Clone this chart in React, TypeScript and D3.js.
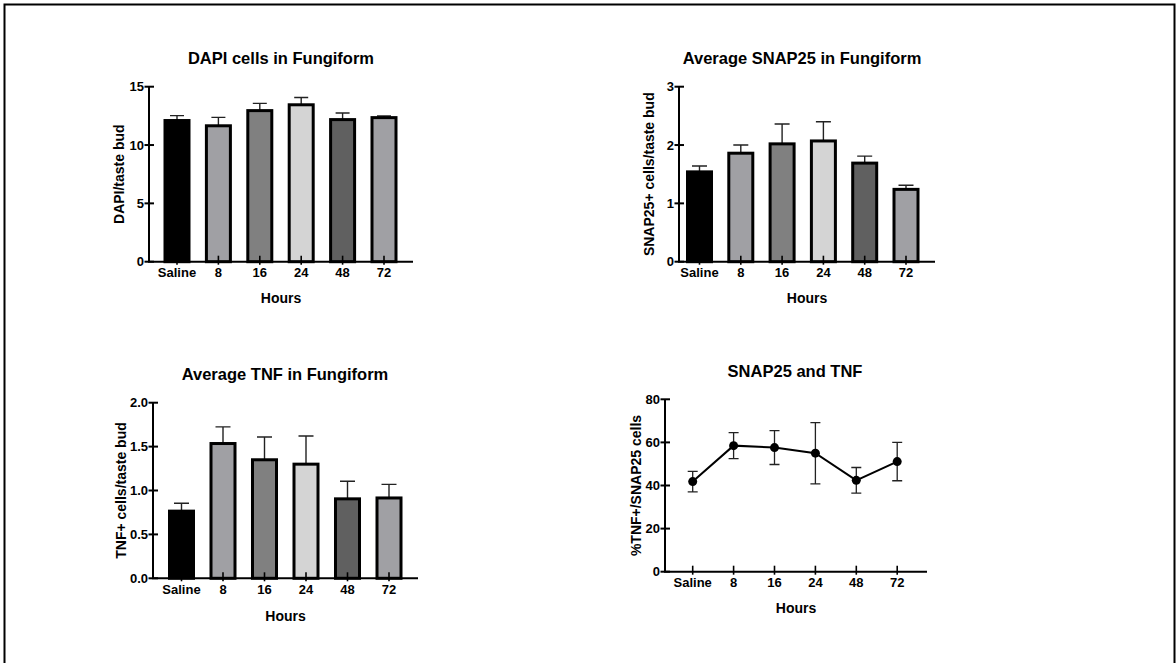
import React, { useEffect, useRef } from 'react';
import * as d3 from 'd3';

const categories = ['Saline', '8', '16', '24', '48', '72'];
const barFills = ['#000000', '#a0a0a4', '#808080', '#d4d4d4', '#606060', '#a0a0a4'];

const dapiMean = [12.1, 11.65, 12.95, 13.45, 12.18, 12.35];
const dapiErr = [0.42, 0.72, 0.62, 0.62, 0.57, 0.14];
const dapiTicks = [0, 5, 10, 15];

const snapMean = [1.54, 1.86, 2.02, 2.07, 1.69, 1.24];
const snapErr = [0.1, 0.14, 0.34, 0.33, 0.12, 0.07];
const snapTicks = [0, 1, 2, 3];

const tnfMean = [0.765, 1.535, 1.35, 1.3, 0.905, 0.915];
const tnfErr = [0.09, 0.19, 0.26, 0.32, 0.2, 0.155];
const tnfTicks = [0, 0.5, 1.0, 1.5, 2.0];

const ratioMean = [41.8, 58.5, 57.6, 55.0, 42.4, 51.1];
const ratioErr = [4.75, 6.05, 7.85, 14.2, 5.95, 8.9];
const ratioTicks = [0, 20, 40, 60, 80];

const FONT = '"Liberation Sans", Arial, sans-serif';

type Panel = {
  title: string;
  titleX: number;
  titleY: number;
  yLabel: string;
  yLabelX: number;
  axisX: number;
  axisEnd: number;
  yTop: number;
  yBottom: number;
  firstX: number;
  step: number;
  ticks: number[];
  fmt: (v: number) => string;
  hoursY: number;
  means: number[];
  errs: number[];
  kind: 'bar' | 'line';
  cap: number;
};

const panels: Panel[] = [
  {
    title: 'DAPI cells in Fungiform', titleX: 281, titleY: 58,
    yLabel: 'DAPI/taste bud', yLabelX: 119,
    axisX: 149, axisEnd: 413, yTop: 86.7, yBottom: 261.7,
    firstX: 177, step: 41.4, ticks: dapiTicks, fmt: d3.format('d'),
    hoursY: 298, means: dapiMean, errs: dapiErr, kind: 'bar', cap: 14,
  },
  {
    title: 'Average SNAP25 in Fungiform', titleX: 802, titleY: 58,
    yLabel: 'SNAP25+ cells/taste bud', yLabelX: 649,
    axisX: 679, axisEnd: 935, yTop: 86.7, yBottom: 261.7,
    firstX: 699.5, step: 41.3, ticks: snapTicks, fmt: d3.format('d'),
    hoursY: 298, means: snapMean, errs: snapErr, kind: 'bar', cap: 15,
  },
  {
    title: 'Average TNF in Fungiform', titleX: 285, titleY: 374,
    yLabel: 'TNF+ cells/taste bud', yLabelX: 121,
    axisX: 153, axisEnd: 418, yTop: 402.7, yBottom: 578.3,
    firstX: 181.5, step: 41.5, ticks: tnfTicks, fmt: d3.format('.1f'),
    hoursY: 616, means: tnfMean, errs: tnfErr, kind: 'bar', cap: 15,
  },
  {
    title: 'SNAP25 and TNF', titleX: 795, titleY: 371,
    yLabel: '%TNF+/SNAP25 cells', yLabelX: 636,
    axisX: 665, axisEnd: 927, yTop: 399.3, yBottom: 571.7,
    firstX: 692.7, step: 40.9, ticks: ratioTicks, fmt: d3.format('d'),
    hoursY: 608, means: ratioMean, errs: ratioErr, kind: 'line', cap: 10,
  },
];

const App = () => {
  const ref = useRef<SVGSVGElement>(null);

  useEffect(() => {
    const svg = d3.select(ref.current);
    svg.selectAll('*').remove();

    // outer frame (bottom edge runs off the page)
    svg.append('rect')
      .attr('x', 4.5).attr('y', 4.5)
      .attr('width', 1170).attr('height', 700)
      .attr('fill', 'none').attr('stroke', '#000').attr('stroke-width', 2);

    panels.forEach((p) => {
      const g = svg.append('g')
        .attr('font-family', FONT)
        .attr('font-weight', 'bold');

      const x = d3.scalePoint<string>()
        .domain(categories)
        .range([p.firstX, p.firstX + p.step * (categories.length - 1)]);
      const y = d3.scaleLinear()
        .domain([0, p.ticks[p.ticks.length - 1]])
        .range([p.yBottom, p.yTop]);

      g.append('text')
        .attr('x', p.titleX).attr('y', p.titleY)
        .attr('dy', '0.35em')
        .attr('text-anchor', 'middle')
        .attr('font-size', 16.5)
        .text(p.title);

      if (p.kind === 'bar') {
        const bw = 24;
        // error bars (upper only)
        g.selectAll('.err')
          .data(categories)
          .enter()
          .append('path')
          .attr('d', (c, i) => {
            const cx = x(c)!;
            const top = y(p.means[i] + p.errs[i]);
            return `M${cx},${y(p.means[i])}V${top}M${cx - p.cap / 2},${top}H${cx + p.cap / 2}`;
          })
          .attr('stroke', '#222')
          .attr('stroke-width', 1.4)
          .attr('fill', 'none');

        g.selectAll('.bar')
          .data(categories)
          .enter()
          .append('rect')
          .attr('x', (c) => x(c)! - bw / 2)
          .attr('y', (c, i) => y(p.means[i]))
          .attr('width', bw)
          .attr('height', (c, i) => y(0) - y(p.means[i]))
          .attr('fill', (c, i) => barFills[i])
          .attr('stroke', '#000')
          .attr('stroke-width', 3);
      } else {
        const line = d3.line<number>()
          .x((v, i) => x(categories[i])!)
          .y((v) => y(v));
        g.append('path')
          .attr('d', line(p.means))
          .attr('fill', 'none')
          .attr('stroke', '#000')
          .attr('stroke-width', 2);

        g.selectAll('.err')
          .data(categories)
          .enter()
          .append('path')
          .attr('d', (c, i) => {
            const cx = x(c)!;
            const hi = y(p.means[i] + p.errs[i]);
            const lo = y(p.means[i] - p.errs[i]);
            const h = p.cap / 2;
            return `M${cx},${lo}V${hi}M${cx - h},${hi}H${cx + h}M${cx - h},${lo}H${cx + h}`;
          })
          .attr('stroke', '#222')
          .attr('stroke-width', 1.3)
          .attr('fill', 'none');

        g.selectAll('.dot')
          .data(p.means)
          .enter()
          .append('circle')
          .attr('cx', (v, i) => x(categories[i])!)
          .attr('cy', (v) => y(v))
          .attr('r', 4.5)
          .attr('fill', '#000');
      }

      // axes
      g.append('path')
        .attr('d', `M${p.axisX},${p.yTop}V${p.yBottom}H${p.axisEnd}`)
        .attr('fill', 'none')
        .attr('stroke', '#000')
        .attr('stroke-width', 2);

      g.selectAll('.ytick')
        .data(p.ticks)
        .enter()
        .append('line')
        .attr('x1', p.axisX - 4.5)
        .attr('x2', p.axisX + 5)
        .attr('y1', (t) => y(t))
        .attr('y2', (t) => y(t))
        .attr('stroke', '#000')
        .attr('stroke-width', 2);

      g.selectAll('.ylab')
        .data(p.ticks)
        .enter()
        .append('text')
        .attr('x', p.axisX - 5)
        .attr('y', (t) => y(t))
        .attr('dy', '0.35em')
        .attr('text-anchor', 'end')
        .attr('font-size', 13)
        .text((t) => p.fmt(t));

      g.selectAll('.xtick')
        .data(categories)
        .enter()
        .append('line')
        .attr('x1', (c) => x(c)!)
        .attr('x2', (c) => x(c)!)
        .attr('y1', p.yBottom - 6)
        .attr('y2', p.yBottom + 3)
        .attr('stroke', '#000')
        .attr('stroke-width', 1.6);

      g.selectAll('.xlab')
        .data(categories)
        .enter()
        .append('text')
        .attr('x', (c) => x(c)!)
        .attr('y', p.yBottom + 11)
        .attr('dy', '0.35em')
        .attr('text-anchor', 'middle')
        .attr('font-size', 13)
        .text((c) => c);

      g.append('text')
        .attr('x', (p.axisX + p.axisEnd) / 2)
        .attr('y', p.hoursY)
        .attr('dy', '0.35em')
        .attr('text-anchor', 'middle')
        .attr('font-size', 14)
        .text('Hours');

      g.append('text')
        .attr('transform', `translate(${p.yLabelX},${(p.yTop + p.yBottom) / 2}) rotate(-90)`)
        .attr('dy', '0.35em')
        .attr('text-anchor', 'middle')
        .attr('font-size', 14)
        .text(p.yLabel);
    });
  }, []);

  return (
    <svg
      ref={ref}
      width={1176}
      height={663}
      style={{ position: 'absolute', left: 0, top: 0, background: '#fff' }}
    ></svg>
  );
};

export default App;
